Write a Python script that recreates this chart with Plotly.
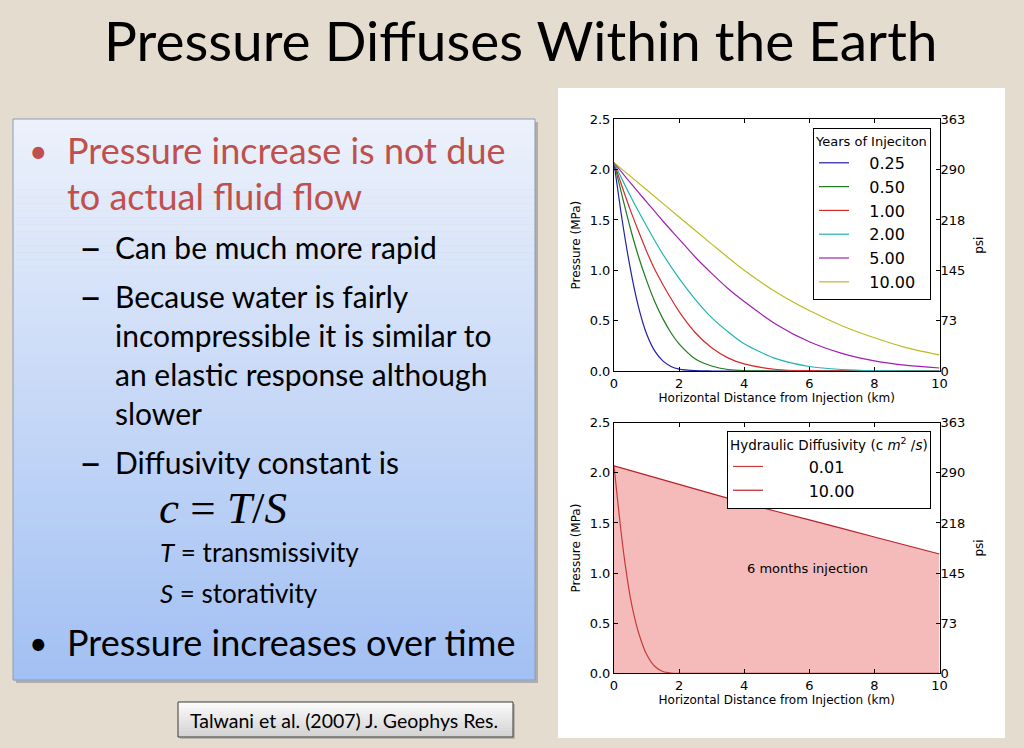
import plotly.graph_objects as go

W, H = 1024, 748

# ---------------- data ----------------
years_labels = ["0.25", "0.50", "1.00", "2.00", "5.00", "10.00"]

dist_025 = [0, 0.25, 0.5, 0.75, 1.0, 1.25, 1.5, 1.75, 2.0, 2.5, 3.0, 10.0]
pres_025 = [2.07, 1.50, 1.02, 0.64, 0.37, 0.20, 0.10, 0.045, 0.018, 0.003, 0.0, 0.0]

dist_050 = [0, 0.25, 0.5, 0.75, 1.0, 1.25, 1.5, 1.75, 2.0, 2.5, 3.0, 3.5, 4.0, 5.0, 10.0]
pres_050 = [2.07, 1.74, 1.42, 1.14, 0.90, 0.69, 0.52, 0.38, 0.27, 0.12, 0.05, 0.015, 0.004, 0.0, 0.0]

dist_100 = [0, 0.25, 0.5, 0.75, 1.0, 1.25, 1.5, 1.75, 2.0, 2.5, 3.0, 3.5, 4.0, 5.0, 6.0, 10.0]
pres_100 = [2.07, 1.83, 1.60, 1.39, 1.19, 1.01, 0.86, 0.72, 0.59, 0.38, 0.23, 0.13, 0.07, 0.015, 0.003, 0.0]

dist_200 = [0, 0.5, 1.0, 1.5, 2.0, 2.5, 3.0, 3.5, 4.0, 5.0, 6.0, 7.0, 8.0, 10.0]
pres_200 = [2.07, 1.74, 1.44, 1.16, 0.92, 0.71, 0.53, 0.39, 0.27, 0.12, 0.045, 0.015, 0.004, 0.0]

dist_500 = [0, 0.5, 1, 1.5, 2, 2.5, 3, 3.5, 4, 5, 6, 7, 8, 9, 10]
pres_500 = [2.07, 1.87, 1.68, 1.49, 1.31, 1.13, 0.97, 0.82, 0.69, 0.46, 0.29, 0.175, 0.10, 0.055, 0.03]

dist_1000 = [0, 1, 2, 3, 4, 5, 6, 7, 8, 9, 10]
pres_1000 = [2.07, 1.80, 1.53, 1.26, 1.00, 0.78, 0.60, 0.45, 0.33, 0.23, 0.16]

diff_labels = ["0.01", "10.00"]
dist_low = [0, 0.1, 0.2, 0.3, 0.4, 0.5, 0.6, 0.75, 1.0, 1.25, 1.5, 1.75, 2.0, 10.0]
pres_low = [2.07, 1.76, 1.46, 1.19, 0.96, 0.76, 0.60, 0.41, 0.19, 0.07, 0.018, 0.003, 0.0, 0.0]
dist_high = [0, 2, 4, 6, 8, 10]
pres_high = [2.07, 1.885, 1.70, 1.53, 1.36, 1.19]

mpa_ticks = [0.0, 0.5, 1.0, 1.5, 2.0, 2.5]
MPA_TO_PSI = 145.038
psi_ticktext = [str(int(round(v * MPA_TO_PSI))) for v in mpa_ticks]
x_ticks = [0, 2, 4, 6, 8, 10]

# ---------------- helpers ----------------
def fx(x):
    return x / W

def fy(y):
    return 1 - y / H

shapes = []
annotations = []

def rect(x0, y0, x1, y1, fill=None, line=None, lw=0, layer="below"):
    shapes.append(dict(type="rect", xref="paper", yref="paper",
                       x0=fx(x0), x1=fx(x1), y0=fy(y1), y1=fy(y0),
                       fillcolor=fill if fill else "rgba(0,0,0,0)",
                       line=dict(color=line if line else "rgba(0,0,0,0)", width=lw),
                       layer=layer))

def text(t, x, y, size, color="black", family="Lato", xanchor="left"):
    annotations.append(dict(text=t, x=fx(x), y=fy(y), xref="paper", yref="paper",
                            xanchor=xanchor, yanchor="middle", showarrow=False,
                            font=dict(size=size, color=color, family=family)))

def gradient_box(x0, y0, x1, y1, c_top, c_bot, n):
    step = (y1 - y0) / n
    for i in range(n):
        t = i / (n - 1)
        c = tuple(int(round(c_top[k] + (c_bot[k] - c_top[k]) * t)) for k in range(3))
        rect(x0, y0 + i * step, x1, y0 + (i + 1) * step + 0.6, fill="rgb(%d,%d,%d)" % c)

def pad(label, n):
    return "\u00a0" * n + label

# ---------------- slide decoration ----------------
rect(558, 88, 1005, 738, fill="white")
rect(16, 122, 538, 683, fill="rgba(90,90,90,0.35)")
gradient_box(13, 119, 535, 680, (236, 241, 251), (162, 192, 243), 80)
rect(13, 119, 535, 680, line="#8a9cb8", lw=1)
rect(180, 704, 515, 739, fill="rgba(90,90,90,0.3)")
gradient_box(178, 702, 513, 737, (250, 250, 250), (212, 212, 212), 12)
rect(178, 702, 513, 737, line="#3a3a3a", lw=1)

# ---------------- slide texts ----------------
text("Pressure Diffuses Within the Earth", 521, 40, 55, xanchor="center")
RED = "#C0504D"
text("•", 27, 150, 32, color=RED)
text("Pressure increase is not due", 65, 150, 36, color=RED)
text("to actual fluid flow", 65, 196, 36, color=RED)
for yy in (247, 296, 462):
    text("–", 77, yy, 40)
text("Can be much more rapid", 113, 247, 30)
text("Because water is fairly", 113, 296, 30)
text("incompressible it is similar to", 113, 335, 30)
text("an elastic response although", 113, 374, 30)
text("slower", 113, 413, 30)
text("Diffusivity constant is", 113, 462, 30)
text("<i>c</i> = <i>T</i>/<i>S</i>", 157, 508, 45, family="Liberation Serif")
text("<i>T</i> = transmissivity", 158, 552, 26)
text("<i>S</i> = storativity", 158, 593, 26)
text("•", 27, 642, 32)
text("Pressure increases over time", 65, 642, 36)
text("Talwani et al. (2007) J. Geophys Res.", 344, 720, 19.5, xanchor="center")

annotations.append(dict(text="6 months injection", x=5.95, y=1.05, xref="x2", yref="y2",
                        showarrow=False, font=dict(size=13, family="DejaVu Sans", color="black")))

# ---------------- traces ----------------
fig = go.Figure()
colors = ["#2020a8", "#1d7a1d", "#d42a2a", "#20b4b4", "#a020b0", "#bcbc22"]
series = [(dist_025, pres_025), (dist_050, pres_050), (dist_100, pres_100),
          (dist_200, pres_200), (dist_500, pres_500), (dist_1000, pres_1000)]
for (xs, ys), lab, col in zip(series, years_labels, colors):
    fig.add_trace(go.Scatter(x=xs, y=ys, mode="lines", name=pad(lab, 3),
                             line=dict(color=col, width=1.2, shape="spline", smoothing=0.8),
                             xaxis="x", yaxis="y", legend="legend"))

fig.add_trace(go.Scatter(x=dist_high, y=pres_high, mode="lines", fill="tozeroy",
                         fillcolor="#F4BBBA", line=dict(width=0, color="rgba(0,0,0,0)"),
                         showlegend=False, hoverinfo="skip", xaxis="x2", yaxis="y2"))
fig.add_trace(go.Scatter(x=dist_low, y=pres_low, mode="lines", name=pad(diff_labels[0], 8),
                         line=dict(color="#c83a3a", width=1.2, shape="spline", smoothing=0.8),
                         xaxis="x2", yaxis="y2", legend="legend2"))
fig.add_trace(go.Scatter(x=dist_high, y=pres_high, mode="lines", name=pad(diff_labels[1], 8),
                         line=dict(color="#b8202a", width=1.2, shape="spline", smoothing=0.6),
                         xaxis="x2", yaxis="y2", legend="legend2"))

# invisible anchors so the secondary (psi) axes get drawn
for xa, ya in (("x", "y3"), ("x2", "y4")):
    fig.add_trace(go.Scatter(x=[0], y=[0], mode="markers", marker=dict(opacity=0),
                             showlegend=False, hoverinfo="skip", xaxis=xa, yaxis=ya))

# ---------------- axes ----------------
XD = [614 / W, 939.5 / W]
YD_TOP = [fy(371), fy(119.3)]
YD_BOT = [fy(673.3), fy(422.7)]
tickfont = dict(size=13, family="DejaVu Sans", color="black")
titlefont = dict(size=12, family="DejaVu Sans", color="black")

def xax(anchor):
    return dict(domain=XD, range=[0, 10], anchor=anchor, tickvals=x_ticks,
                ticks="inside", ticklen=4, tickcolor="black", mirror="ticks",
                showline=True, linecolor="black", linewidth=1, showgrid=False, zeroline=False,
                tickfont=tickfont, automargin=False,
                title=dict(text="Horizontal Distance from Injection (km)", font=titlefont, standoff=1))

def yax(domain, anchor):
    return dict(domain=domain, range=[0, 2.5], anchor=anchor, tickvals=mpa_ticks, tickformat=".1f",
                ticks="inside", ticklen=4, tickcolor="black", mirror="ticks",
                showline=True, linecolor="black", linewidth=1, showgrid=False, zeroline=False,
                tickfont=tickfont, automargin=False,
                title=dict(text="Pressure (MPa)", font=titlefont, standoff=6))

def psiax(over, anchor):
    return dict(overlaying=over, anchor=anchor, side="right", range=[0, 2.5],
                tickvals=mpa_ticks, ticktext=psi_ticktext, ticks="inside", ticklen=4,
                tickcolor="black", showline=False, showgrid=False, zeroline=False,
                tickfont=tickfont, automargin=False,
                title=dict(text="psi", font=titlefont, standoff=10))

legend_common = dict(xanchor="right", yanchor="top", bgcolor="white", bordercolor="black",
                     borderwidth=1, font=dict(size=16, family="DejaVu Sans", color="black"))

fig.update_layout(
    width=W, height=H, margin=dict(l=0, r=0, t=0, b=0),
    paper_bgcolor="#E4DCCE", plot_bgcolor="white",
    xaxis=xax("y"), yaxis=yax(YD_TOP, "x"), yaxis3=psiax("y", "x"),
    xaxis2=xax("y2"), yaxis2=yax(YD_BOT, "x2"), yaxis4=psiax("y2", "x2"),
    shapes=shapes, annotations=annotations,
    legend=dict(x=fx(931), y=fy(128),
                title=dict(text="Years of Injeciton", font=dict(size=13, family="DejaVu Sans", color="black")),
                **legend_common),
    legend2=dict(x=fx(931), y=fy(431),
                 title=dict(text="Hydraulic Diffusivity (c <i>m</i><sup>2</sup> /<i>s</i>)",
                            font=dict(size=13.5, family="DejaVu Sans", color="black")),
                 **legend_common),
    showlegend=True,
)

fig.write_html("out.html")
